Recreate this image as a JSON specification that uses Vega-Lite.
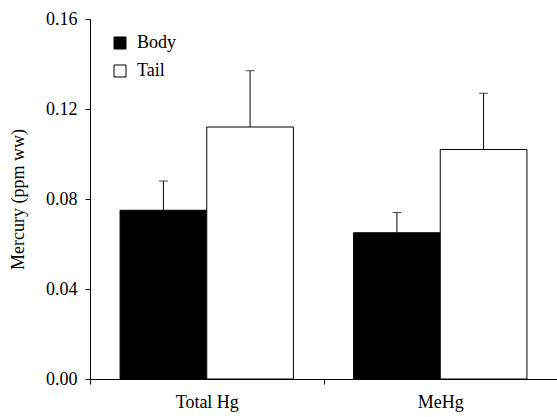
{
  "$schema": "https://vega.github.io/schema/vega-lite/v6.json",
  "width": 467,
  "height": 360,
  "autosize": {"type": "none"},
  "padding": {"left": 90, "top": 19, "right": 0, "bottom": 38},
  "background": "white",
  "config": {
    "view": {"stroke": null},
    "font": "Liberation Serif",
    "style": {
      "guide-label": {"font": "Liberation Serif", "fontSize": 18, "fill": "black"},
      "guide-title": {"font": "Liberation Serif", "fontSize": 18, "fill": "black", "fontWeight": "normal"}
    },
    "axis": {
      "domainColor": "black",
      "tickColor": "black",
      "grid": false,
      "domainWidth": 1,
      "tickWidth": 1
    }
  },
  "data": {
    "values": [
      {"analyte": "Total Hg", "tissue": "Body", "mean": 0.075, "upper": 0.088},
      {"analyte": "Total Hg", "tissue": "Tail", "mean": 0.112, "upper": 0.137},
      {"analyte": "MeHg", "tissue": "Body", "mean": 0.065, "upper": 0.074},
      {"analyte": "MeHg", "tissue": "Tail", "mean": 0.102, "upper": 0.127}
    ]
  },
  "encoding": {
    "x": {
      "field": "analyte",
      "type": "nominal",
      "sort": ["Total Hg", "MeHg"],
      "scale": {"paddingInner": 0, "paddingOuter": 0},
      "axis": {
        "title": null,
        "tickBand": "extent",
        "labelAngle": 0,
        "tickSize": 5,
        "labelPadding": 9,
        "labelFont": "Liberation Serif",
        "labelFontSize": 18,
        "labelColor": "black"
      }
    },
    "xOffset": {
      "field": "tissue",
      "type": "nominal",
      "sort": ["Body", "Tail"],
      "scale": {"paddingInner": 0, "paddingOuter": 0.347}
    }
  },
  "layer": [
    {
      "mark": {"type": "bar", "stroke": "black", "strokeWidth": 1},
      "encoding": {
        "y": {
          "field": "mean",
          "type": "quantitative",
          "scale": {"domain": [0, 0.16], "nice": false},
          "axis": {
            "title": "Mercury (ppm ww)",
            "values": [0, 0.04, 0.08, 0.12, 0.16],
            "format": ".2f",
            "tickSize": 5,
            "labelPadding": 8,
            "titlePadding": 18,
            "labelFont": "Liberation Serif",
            "labelFontSize": 18,
            "labelColor": "black",
            "titleFont": "Liberation Serif",
            "titleFontSize": 18,
            "titleFontWeight": "normal",
            "titleColor": "black"
          }
        },
        "fill": {
          "field": "tissue",
          "type": "nominal",
          "scale": {"domain": ["Body", "Tail"], "range": ["black", "white"]},
          "legend": {
            "title": null,
            "orient": "none",
            "legendX": 21,
            "legendY": 15,
            "symbolType": "square",
            "symbolSize": 144,
            "symbolStrokeColor": "black",
            "symbolStrokeWidth": 1,
            "labelOffset": 8,
            "rowPadding": 10,
            "labelFont": "Liberation Serif",
            "labelFontSize": 18,
            "labelColor": "black"
          }
        }
      }
    },
    {
      "mark": {"type": "rule", "color": "black", "strokeWidth": 1},
      "encoding": {
        "y": {"field": "mean", "type": "quantitative"},
        "y2": {"field": "upper"}
      }
    },
    {
      "mark": {"type": "tick", "color": "black", "thickness": 1, "size": 9},
      "encoding": {
        "y": {"field": "upper", "type": "quantitative"}
      }
    }
  ]
}
